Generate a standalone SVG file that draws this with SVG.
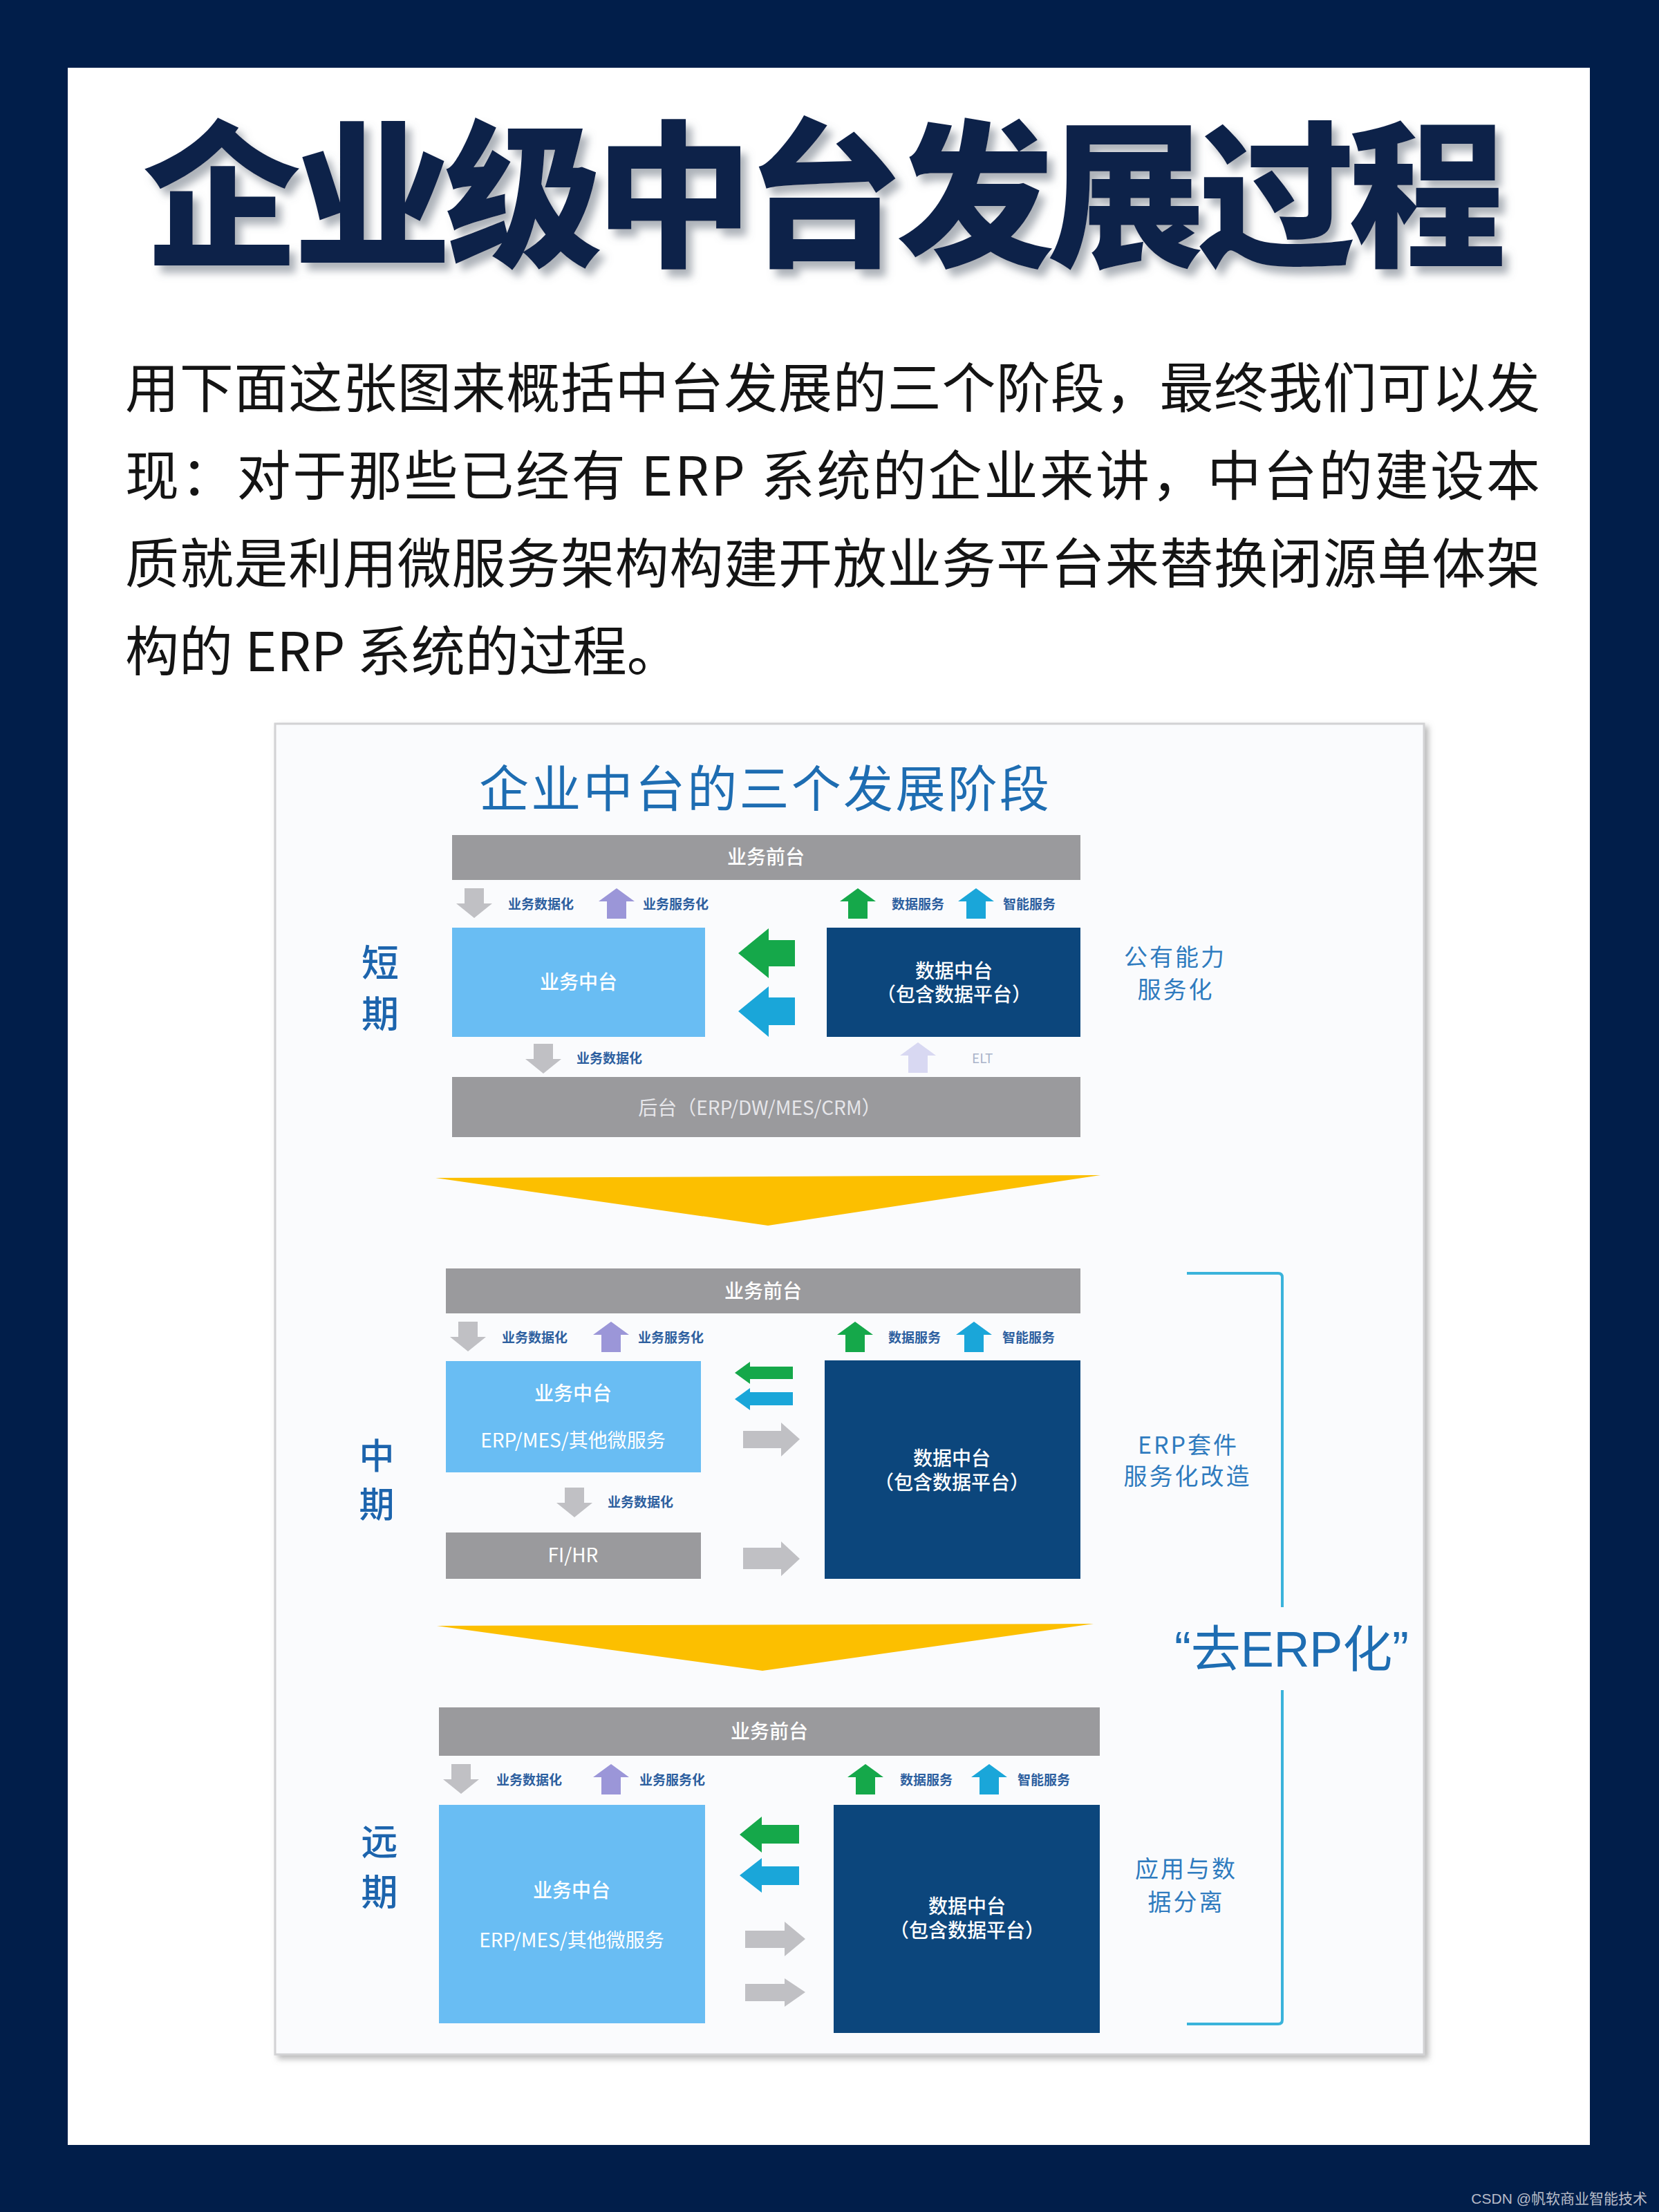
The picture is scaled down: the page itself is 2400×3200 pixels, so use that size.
<svg xmlns="http://www.w3.org/2000/svg" width="2400" height="3200" viewBox="0 0 2400 3200">
<defs>
<style>
.cjk{font-family:"Noto Sans CJK SC","Noto Sans",sans-serif}
.title{font-family:"Noto Sans CJK SC",sans-serif;font-weight:900;font-size:228px;fill:#0e2049}
.body{font-family:"Noto Sans CJK SC",sans-serif;font-weight:400;font-size:78px;fill:#141414}
.gbar{fill:#9a9a9d}
.lbox{fill:#69bdf3}
.dbox{fill:#0c467c}
.wt{font-family:"Noto Sans CJK SC",sans-serif;font-weight:500;font-size:28px;fill:#ffffff;text-anchor:middle}
.sl{font-family:"Noto Sans CJK SC",sans-serif;font-weight:700;font-size:19px;fill:#2d5f9f}
.side{font-family:"Noto Sans CJK SC",sans-serif;font-weight:500;font-size:54px;fill:#1c64ad;text-anchor:middle}
.rl{font-family:"Noto Sans CJK SC",sans-serif;font-weight:400;font-size:34px;fill:#2f7bbf;text-anchor:middle;letter-spacing:3px}
.gray{fill:#c0c0c4}
.purple{fill:#9b96d8}
.green{fill:#15a84a}
.cyan{fill:#1aa6d9}
.lav{fill:#d8d8f2}
.yel{fill:#fcbf00}
</style>
<filter id="tsh" x="-5%" y="-10%" width="110%" height="130%">
<feDropShadow dx="9" dy="11" stdDeviation="6" flood-color="#6b7280" flood-opacity="0.55"/>
</filter>
<filter id="fsh" x="-3%" y="-3%" width="106%" height="106%">
<feDropShadow dx="5" dy="5" stdDeviation="4" flood-color="#888888" flood-opacity="0.6"/>
</filter>
<path id="aDown" d="M12,0 H40 V22 H52 L26,43 L0,22 H12 Z"/>
<path id="aUp" d="M26,0 L52,19 H40 V44 H12 V19 H0 Z"/>
</defs>

<rect x="0" y="0" width="2400" height="3200" fill="#011e4a"/>
<rect x="98" y="98" width="2202" height="3005" fill="#ffffff"/>

<g id="main-title">
<text class="title" x="207" y="368" textLength="1972" lengthAdjust="spacing" filter="url(#tsh)">企业级中台发展过程</text>
</g>

<g id="intro-text">
<text class="body" x="181" y="590" textLength="2047" lengthAdjust="spacing">用下面这张图来概括中台发展的三个阶段，最终我们可以发</text>
<text class="body" x="181" y="717" textLength="2047" lengthAdjust="spacing">现：对于那些已经有 ERP 系统的企业来讲，中台的建设本</text>
<text class="body" x="181" y="844" textLength="2047" lengthAdjust="spacing">质就是利用微服务架构构建开放业务平台来替换闭源单体架</text>
<text class="body" x="181" y="971">构的 ERP 系统的过程。</text>
</g>

<g id="diagram-frame">
<rect x="398" y="1047" width="1662" height="1925" fill="#fafbfd" stroke="#d2d2d4" stroke-width="3" filter="url(#fsh)"/>
<text x="693" y="1167" font-family="Noto Sans CJK SC, sans-serif" font-size="72" font-weight="400" fill="#1e6db2" textLength="825" lengthAdjust="spacing">企业中台的三个发展阶段</text>
</g>

<!-- Short term -->
<g id="short-label">
<text class="side" x="550" y="1413">短</text>
<text class="side" x="550" y="1487">期</text>
</g>
<g id="short-front">
<rect class="gbar" x="654" y="1208" width="909" height="65"/>
<text class="wt" x="1108" y="1250">业务前台</text>
</g>
<g id="short-biz">
<rect class="lbox" x="654" y="1342" width="366" height="158"/>
<text class="wt" x="837" y="1431">业务中台</text>
</g>
<g id="short-data">
<rect class="dbox" x="1196" y="1342" width="367" height="158"/>
<text class="wt" x="1380" y="1415">数据中台</text>
<text class="wt" x="1380" y="1449">（包含数据平台）</text>
</g>
<g id="short-back">
<rect class="gbar" x="654" y="1558" width="909" height="87"/>
<text class="wt" x="1099" y="1613" style="fill:#e6e6ea;font-weight:400">后台（ERP/DW/MES/CRM）</text>
</g>
<g id="short-note">
<text class="rl" x="1700" y="1397">公有能力</text>
<text class="rl" x="1701" y="1444">服务化</text>
</g>

<!-- Mid term -->
<g id="mid-label">
<text class="side" x="545" y="2125" style="font-size:51px">中</text>
<text class="side" x="545" y="2195" style="font-size:51px">期</text>
</g>
<g id="mid-front">
<rect class="gbar" x="645" y="1835" width="918" height="65"/>
<text class="wt" x="1104" y="1878">业务前台</text>
</g>
<g id="mid-biz">
<rect class="lbox" x="645" y="1969" width="369" height="161"/>
<text class="wt" x="829" y="2026">业务中台</text>
<text class="wt" x="829" y="2094" style="font-weight:400">ERP/MES/其他微服务</text>
</g>
<g id="mid-fihr">
<rect class="gbar" x="645" y="2217" width="369" height="67"/>
<text class="wt" x="829" y="2260" style="font-weight:400">FI/HR</text>
</g>
<g id="mid-data">
<rect class="dbox" x="1193" y="1968" width="370" height="316"/>
<text class="wt" x="1377" y="2120">数据中台</text>
<text class="wt" x="1377" y="2155">（包含数据平台）</text>
</g>
<g id="mid-note">
<text class="rl" x="1719" y="2103">ERP套件</text>
<text class="rl" x="1718" y="2148">服务化改造</text>
</g>

<!-- Long term -->
<g id="long-label">
<text class="side" x="549" y="2684" style="font-size:53px">远</text>
<text class="side" x="549" y="2757" style="font-size:53px">期</text>
</g>
<g id="long-front">
<rect class="gbar" x="635" y="2470" width="956" height="70"/>
<text class="wt" x="1113" y="2515">业务前台</text>
</g>
<g id="long-biz">
<rect class="lbox" x="635" y="2611" width="385" height="316"/>
<text class="wt" x="827" y="2745">业务中台</text>
<text class="wt" x="827" y="2817" style="font-weight:400">ERP/MES/其他微服务</text>
</g>
<g id="long-data">
<rect class="dbox" x="1206" y="2611" width="385" height="330"/>
<text class="wt" x="1399" y="2768">数据中台</text>
<text class="wt" x="1399" y="2803">（包含数据平台）</text>
</g>
<g id="long-note">
<text class="rl" x="1716" y="2716">应用与数</text>
<text class="rl" x="1716" y="2764">据分离</text>
</g>

<g id="de-erp">
<path d="M1717,1842 H1849 Q1855,1842 1855,1848 V2325 M1855,2445 V2922 Q1855,2928 1849,2928 H1717" fill="none" stroke="#3ab3db" stroke-width="4"/>
<text x="1699" y="2411" font-family="Liberation Sans, Noto Sans CJK SC, sans-serif" font-size="72" fill="#1e6db2" textLength="339" lengthAdjust="spacing">“去ERP化”</text>
</g>

<g id="connectors">
<use href="#aDown" class="gray" x="660" y="1285"/>
<use href="#aUp" class="purple" x="866" y="1285"/>
<use href="#aUp" class="green" x="1215" y="1285"/>
<use href="#aUp" class="cyan" x="1386" y="1285"/>
<use href="#aDown" class="gray" x="760" y="1510"/>
<use href="#aUp" class="lav" x="1302" y="1508"/>
<text class="sl" x="735" y="1315">业务数据化</text>
<text class="sl" x="930" y="1315">业务服务化</text>
<text class="sl" x="1290" y="1315">数据服务</text>
<text class="sl" x="1451" y="1315">智能服务</text>
<text class="sl" x="834" y="1538">业务数据化</text>
<text class="sl" x="1406" y="1538" style="fill:#a9b3c9;font-weight:400">ELT</text>
<path class="green" d="M1068,1379 L1112,1343 V1360 H1150 V1398 H1112 V1415 Z"/>
<path class="cyan" d="M1068,1463 L1112,1427 V1443 H1150 V1483 H1112 V1500 Z"/>

<path class="yel" d="M630,1704 L1592,1700 L1111,1773 Z"/>

<use href="#aDown" class="gray" x="651" y="1912"/>
<use href="#aUp" class="purple" x="858" y="1912"/>
<use href="#aUp" class="green" x="1211" y="1912"/>
<use href="#aUp" class="cyan" x="1383" y="1912"/>
<use href="#aDown" class="gray" x="805" y="2152"/>
<text class="sl" x="726" y="1942">业务数据化</text>
<text class="sl" x="923" y="1942">业务服务化</text>
<text class="sl" x="1285" y="1942">数据服务</text>
<text class="sl" x="1450" y="1942">智能服务</text>
<text class="sl" x="879" y="2180">业务数据化</text>
<path class="green" d="M1063,1986 L1085,1970 V1977 H1147 V1995 H1085 V2002 Z"/>
<path class="cyan" d="M1063,2024 L1085,2008 V2014 H1147 V2033 H1085 V2040 Z"/>
<path class="gray" d="M1075,2070 H1130 V2058 L1157,2082 L1130,2107 V2095 H1075 Z"/>
<path class="gray" d="M1075,2239 H1130 V2230 L1157,2255 L1130,2280 V2270 H1075 Z"/>

<path class="yel" d="M632,2352 L1582,2349 L1103,2417 Z"/>

<use href="#aDown" class="gray" x="641" y="2552"/>
<use href="#aUp" class="purple" x="858" y="2552"/>
<use href="#aUp" class="green" x="1226" y="2552"/>
<use href="#aUp" class="cyan" x="1405" y="2552"/>
<text class="sl" x="718" y="2582">业务数据化</text>
<text class="sl" x="925" y="2582">业务服务化</text>
<text class="sl" x="1302" y="2582">数据服务</text>
<text class="sl" x="1472" y="2582">智能服务</text>
<path class="green" d="M1070,2654 L1102,2628 V2640 H1156 V2667 H1102 V2680 Z"/>
<path class="cyan" d="M1070,2713 L1102,2688 V2700 H1156 V2727 H1102 V2738 Z"/>
<path class="gray" d="M1078,2793 H1135 V2780 L1165,2805 L1135,2830 V2818 H1078 Z"/>
<path class="gray" d="M1078,2870 H1135 V2862 L1165,2882 L1135,2903 V2895 H1078 Z"/>
</g>

<text x="2383" y="3188" font-family="Liberation Sans, Noto Sans CJK SC, sans-serif" font-size="21" fill="#b8bcc8" text-anchor="end">CSDN @帆软商业智能技术</text>
</svg>
